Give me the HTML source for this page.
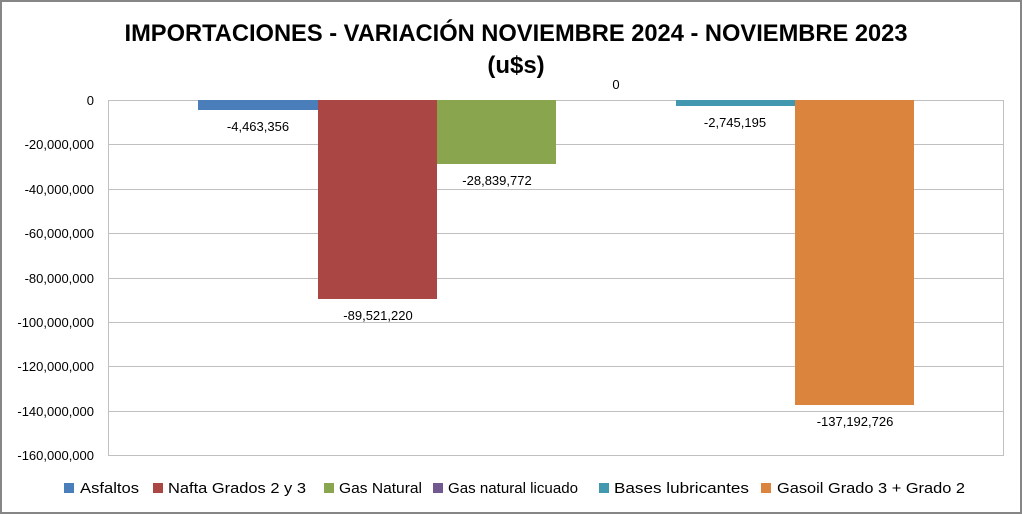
<!DOCTYPE html>
<html><head><meta charset="utf-8"><style>body{margin:0;background:#fff}svg{display:block}</style></head><body>
<svg width="1022" height="514" xmlns="http://www.w3.org/2000/svg" font-family="Liberation Sans, sans-serif">
<rect x="1" y="1" width="1020" height="512" fill="#fff" stroke="#868686" stroke-width="2"/>
<text x="516" y="41" text-anchor="middle" font-weight="bold" font-size="24" textLength="783" lengthAdjust="spacingAndGlyphs">IMPORTACIONES - VARIACIÓN NOVIEMBRE 2024 - NOVIEMBRE 2023</text>
<text x="516" y="73" text-anchor="middle" font-weight="bold" font-size="24">(u$s)</text>
<g stroke="#c0c0c0" stroke-width="1">
<line x1="108" y1="144.5" x2="1003" y2="144.5"/><line x1="108" y1="189.5" x2="1003" y2="189.5"/>
<line x1="108" y1="233.5" x2="1003" y2="233.5"/><line x1="108" y1="278.5" x2="1003" y2="278.5"/>
<line x1="108" y1="322.5" x2="1003" y2="322.5"/><line x1="108" y1="366.5" x2="1003" y2="366.5"/>
<line x1="108" y1="411.5" x2="1003" y2="411.5"/><line x1="108" y1="455.5" x2="1003" y2="455.5"/>
<line x1="108" y1="100.5" x2="1003" y2="100.5"/>
<line x1="108.5" y1="100" x2="108.5" y2="456"/><line x1="1003.5" y1="100" x2="1003.5" y2="456"/>
</g>
<g font-size="13" text-anchor="end" fill="#000">
<text x="94" y="105">0</text><text x="94" y="149">-20,000,000</text><text x="94" y="194">-40,000,000</text>
<text x="94" y="238">-60,000,000</text><text x="94" y="283">-80,000,000</text><text x="94" y="327">-100,000,000</text>
<text x="94" y="371">-120,000,000</text><text x="94" y="416">-140,000,000</text><text x="94" y="460">-160,000,000</text>
</g>
<rect x="198" y="100" width="120" height="10" fill="#4a7ebb"/>
<rect x="318" y="100" width="119" height="199" fill="#aa4643"/>
<rect x="437" y="100" width="119" height="64" fill="#89a54e"/>
<rect x="676" y="100" width="119" height="6" fill="#4198af"/>
<rect x="795" y="100" width="119" height="305" fill="#db843d"/>
<g font-size="13" text-anchor="middle">
<text x="258" y="131">-4,463,356</text>
<text x="378" y="320">-89,521,220</text>
<text x="497" y="185">-28,839,772</text>
<text x="616" y="89">0</text>
<text x="735" y="127">-2,745,195</text>
<text x="855" y="426">-137,192,726</text>
</g>
<g font-size="15">
<rect x="64" y="483" width="10" height="10" fill="#4a7ebb"/><text x="80" y="493" textLength="59" lengthAdjust="spacingAndGlyphs">Asfaltos</text>
<rect x="153" y="483" width="10" height="10" fill="#aa4643"/><text x="168" y="493" textLength="138" lengthAdjust="spacingAndGlyphs">Nafta Grados 2 y 3</text>
<rect x="324" y="483" width="10" height="10" fill="#89a54e"/><text x="339" y="493" textLength="83" lengthAdjust="spacingAndGlyphs">Gas Natural</text>
<rect x="433" y="483" width="10" height="10" fill="#71588f"/><text x="448" y="493" textLength="130" lengthAdjust="spacingAndGlyphs">Gas natural licuado</text>
<rect x="599" y="483" width="10" height="10" fill="#4198af"/><text x="614" y="493" textLength="135" lengthAdjust="spacingAndGlyphs">Bases lubricantes</text>
<rect x="761" y="483" width="10" height="10" fill="#db843d"/><text x="777" y="493" textLength="188" lengthAdjust="spacingAndGlyphs">Gasoil Grado 3 + Grado 2</text>
</g>
</svg>
</body></html>
